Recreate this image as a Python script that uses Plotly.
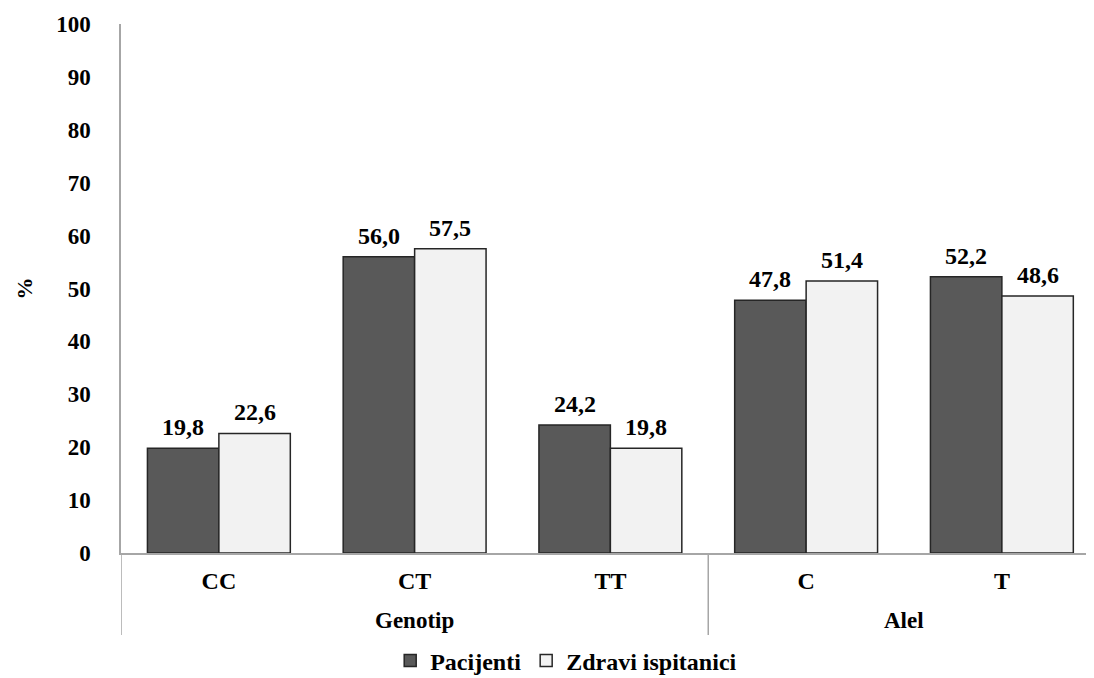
import plotly.graph_objects as go

categories = ["CC", "CT", "TT", "C", "T"]
groups = ["Genotip", "Alel"]
group_sizes = [3, 2]
pacijenti = [19.8, 56.0, 24.2, 47.8, 52.2]
zdravi = [22.6, 57.5, 19.8, 51.4, 48.6]
y_ticks = list(range(0, 101, 10))

FONT = "Liberation Serif"
# the page body adds an 8px offset; compensate so the figure fills the window
W, H = 1086, 670
L, R, T, B = 113, 0, 16, 125
BARGAP = 0.27
CAT_PX = 195.75  # spacing between category centres, px

def fmt(v):
    return f"{v:.1f}".replace(".", ",")

fig = go.Figure()
fig.add_trace(go.Bar(
    x=categories, y=pacijenti, name="Pacijenti",
    marker=dict(color="#595959", line=dict(color="#262626", width=1.5)),
))
fig.add_trace(go.Bar(
    x=categories, y=zdravi, name="Zdravi ispitanici",
    marker=dict(color="#f2f2f2", line=dict(color="#262626", width=1.5)),
))

n = len(categories)
plot_w = W - L - R
x_max = -0.5 + plot_w / CAT_PX
half_bar = CAT_PX * (1 - BARGAP) / 4

annotations = []
for series, sign in ((pacijenti, -1), (zdravi, 1)):
    for c, v in zip(categories, series):
        annotations.append(dict(x=c, y=v, xref="x", yref="y", text=f"<b>{fmt(v)}</b>",
                                showarrow=False, xanchor="center", yanchor="bottom",
                                xshift=sign * half_bar, yshift=6,
                                font=dict(family=FONT, size=24, color="black")))

# group labels and separators
plot_h = H - T - B
shapes = []
start = 0
for g, size in zip(groups, group_sizes):
    end = start + size
    center = (start + end - 1) / 2
    annotations.append(dict(x=center, y=-67 / plot_h, xref="x", yref="paper",
                            text=f"<b>{g}</b>", showarrow=False, yanchor="middle",
                            font=dict(family=FONT, size=23, color="black")))
    shapes.append(dict(type="line", x0=start - 0.5, x1=start - 0.5, xref="x",
                       y0=0, y1=-82 / plot_h, yref="paper",
                       line=dict(color="#a6a6a6", width=1.5)))
    start = end

fig.update_layout(
    width=W, height=H,
    margin=dict(l=L, r=R, t=T, b=B),
    paper_bgcolor="white", plot_bgcolor="white",
    barmode="group", bargap=BARGAP, bargroupgap=0,
    font=dict(family=FONT, color="black"),
    shapes=shapes, annotations=annotations,
    legend=dict(orientation="h", xref="container", x=0.514, xanchor="center",
                yref="container", y=0.0254, yanchor="middle",
                font=dict(family=FONT, size=24, color="black", weight="bold"),
                traceorder="normal"),
    xaxis=dict(type="category", range=[-0.5, x_max], showline=True,
               linecolor="#a6a6a6", linewidth=1.5, showgrid=False, ticks="",
               tickfont=dict(family=FONT, size=24, color="black", weight="bold"),
               ticklabelstandoff=5),
    yaxis=dict(range=[0, 100], tickvals=y_ticks, showline=True,
               linecolor="#a6a6a6", linewidth=1.5, showgrid=False, ticks="",
               zeroline=False,
               tickfont=dict(family=FONT, size=23, color="black", weight="bold"),
               ticklabelstandoff=24,
               title=dict(text="<b>%</b>", standoff=17,
                          font=dict(family=FONT, size=22, color="black"))),
)

fig.write_html("out.html")
